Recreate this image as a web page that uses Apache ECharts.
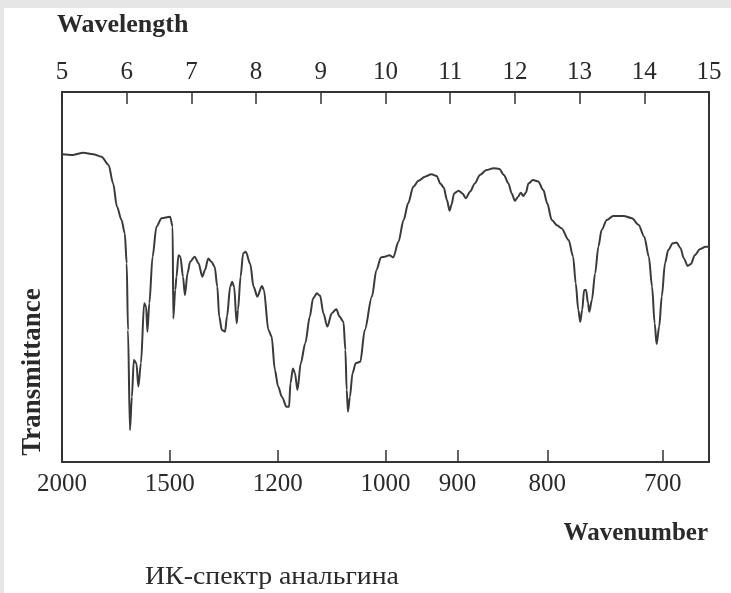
<!DOCTYPE html>
<html>
<head>
    <meta charset="utf-8">
    <title>ИК-спектр анальгина</title>
    <script src="https://cdn.jsdelivr.net/npm/echarts@6/dist/echarts.min.js"></script>
    <style>
        html, body { margin: 0; padding: 0; background: #fff; }
    </style>
</head>
<body>
<div id="main" style="width: 731px;height:593px;"></div>
<script type="text/javascript">
    // wavelength, micrometres (top axis)
    var wavelength = [
        5.00, 5.17, 5.33, 5.48, 5.61, 5.72, 5.79, 5.85, 5.92, 5.97,
        6.00, 6.02, 6.05, 6.08, 6.11, 6.15, 6.18, 6.22, 6.27, 6.30,
        6.32, 6.35, 6.40, 6.46, 6.54, 6.67, 6.71, 6.72, 6.75, 6.77,
        6.80, 6.83, 6.87, 6.90, 6.94, 6.98, 7.05, 7.11, 7.17, 7.21,
        7.26, 7.31, 7.36, 7.40, 7.43, 7.47, 7.52, 7.55, 7.60, 7.63,
        7.66, 7.70, 7.72, 7.76, 7.80, 7.84, 7.91, 7.96, 8.02, 8.09,
        8.12, 8.19, 8.24, 8.29, 8.34, 8.40, 8.47, 8.51, 8.53, 8.57,
        8.60, 8.64, 8.69, 8.76, 8.83, 8.88, 8.94, 8.99, 9.04, 9.10,
        9.17, 9.24, 9.29, 9.35, 9.38, 9.40, 9.42, 9.45, 9.49, 9.54,
        9.61, 9.68, 9.79, 9.86, 9.93, 9.99, 10.06, 10.12, 10.20, 10.28,
        10.35, 10.43, 10.51, 10.61, 10.71, 10.79, 10.85, 10.90, 10.95, 10.99,
        11.02, 11.06, 11.13, 11.19, 11.24, 11.31, 11.38, 11.46, 11.56, 11.67,
        11.76, 11.83, 11.90, 11.95, 12.00, 12.05, 12.09, 12.13, 12.17, 12.21,
        12.28, 12.36, 12.44, 12.50, 12.57, 12.65, 12.72, 12.83, 12.90, 12.94,
        12.98, 13.01, 13.04, 13.07, 13.10, 13.13, 13.15, 13.19, 13.24, 13.29,
        13.34, 13.42, 13.52, 13.68, 13.81, 13.91, 14.00, 14.07, 14.12, 14.16,
        14.19, 14.23, 14.27, 14.32, 14.37, 14.44, 14.50, 14.56, 14.61, 14.67,
        14.72, 14.78, 14.86, 14.95, 15.00
    ];
    // transmittance, % of the frame height
    var transmittance = [
        83.2, 83.0, 83.6, 83.2, 82.5, 80.3, 75.3, 69.0, 65.4, 61.8,
        53.7, 35.7, 8.6, 17.6, 27.6, 26.7, 20.4, 26.7, 42.9, 42.0,
        35.2, 42.9, 55.5, 63.6, 65.9, 66.3, 63.6, 38.8, 46.5, 50.1,
        55.9, 55.5, 50.1, 45.1, 51.0, 54.1, 55.5, 53.7, 50.1, 51.9,
        55.0, 54.1, 52.8, 47.4, 39.3, 35.7, 35.2, 39.3, 47.4, 48.7,
        47.4, 37.5, 41.1, 50.1, 56.4, 56.8, 53.5, 47.4, 44.7, 47.6,
        46.5, 35.7, 33.9, 24.9, 20.4, 17.6, 14.9, 14.9, 21.3, 25.3,
        24.0, 19.5, 26.7, 32.1, 39.3, 44.2, 45.6, 44.9, 40.2, 36.6,
        40.2, 41.3, 39.3, 37.9, 30.3, 19.5, 13.6, 17.6, 24.0, 26.7,
        27.1, 35.7, 44.7, 51.9, 55.3, 55.5, 55.9, 55.3, 59.5, 65.4,
        69.9, 74.4, 76.0, 77.1, 77.8, 77.3, 75.2, 74.2, 70.8, 67.9,
        69.5, 72.6, 73.3, 72.6, 71.3, 73.1, 75.3, 77.6, 78.9, 79.4,
        79.2, 77.6, 75.3, 72.6, 70.6, 71.7, 72.8, 71.9, 72.8, 75.3,
        76.2, 75.8, 73.5, 69.9, 65.4, 64.0, 63.2, 60.0, 55.5, 48.3,
        41.1, 37.9, 41.1, 46.5, 46.5, 42.9, 40.6, 43.8, 51.0, 58.2,
        62.7, 65.4, 66.5, 66.5, 65.9, 64.1, 60.9, 55.5, 47.4, 37.5,
        31.9, 36.6, 44.7, 53.7, 57.3, 59.1, 59.3, 57.8, 55.1, 53.0,
        53.5, 55.9, 57.5, 58.2, 58.2
    ];
    // bottom axis tick labels, cm-1
    var wavenumberTicks = [2000, 1500, 1200, 1000, 900, 800, 700];

    var serif = '"Liberation Serif", "DejaVu Serif", serif';
    var ink = '#2a2a2a';

    var chartDom = document.getElementById('main');
    var myChart = echarts.init(chartDom);

    var points = wavelength.map(function (w, i) {
        return [w, transmittance[i]];
    });
    var tickPos = wavenumberTicks.map(function (n) {
        return 10000 / n;
    });

    var frameLine = { show: true, onZero: false, lineStyle: { color: '#333', width: 2 } };

    var option = {
        backgroundColor: '#fff',
        animation: false,
        grid: { left: 62, right: 22, top: 92, bottom: 131 },
        xAxis: [
            {
                type: 'value',
                position: 'top',
                min: 5,
                max: 15,
                interval: 1,
                axisLine: frameLine,
                axisTick: { show: true, inside: true, length: 12, lineStyle: { color: '#333', width: 1.5 } },
                axisLabel: { margin: 7, color: ink, fontFamily: serif, fontSize: 25 },
                splitLine: { show: false }
            },
            {
                type: 'value',
                position: 'bottom',
                min: 5,
                max: 15,
                axisLine: frameLine,
                axisTick: { show: true, inside: true, length: 12, customValues: tickPos, lineStyle: { color: '#333', width: 1.5 } },
                axisLabel: {
                    margin: 10,
                    color: ink,
                    fontFamily: serif,
                    fontSize: 25,
                    customValues: tickPos,
                    formatter: function (v) { return Math.round(10000 / v); }
                },
                splitLine: { show: false }
            }
        ],
        yAxis: [
            {
                type: 'value', position: 'left', min: 0, max: 100,
                axisLine: frameLine, axisTick: { show: false }, axisLabel: { show: false }, splitLine: { show: false }
            },
            {
                type: 'value', position: 'right', min: 0, max: 100,
                axisLine: frameLine, axisTick: { show: false }, axisLabel: { show: false }, splitLine: { show: false }
            }
        ],
        graphic: [
            { type: 'rect', shape: { x: 0, y: 0, width: 731, height: 8 }, style: { fill: '#e6e6e6' }, silent: true },
            { type: 'rect', shape: { x: 0, y: 0, width: 4, height: 593 }, style: { fill: '#e6e6e6' }, silent: true },
            {
                type: 'text', x: 57, y: 25,
                style: { text: 'Wavelength', fill: ink, font: 'bold 26px ' + serif, textAlign: 'left', textVerticalAlign: 'middle' }
            },
            {
                type: 'text', x: 33, y: 372, rotation: Math.PI / 2,
                style: { text: 'Transmittance', fill: ink, font: 'bold 27px ' + serif, textAlign: 'center', textVerticalAlign: 'middle' }
            },
            {
                type: 'text', x: 708, y: 534,
                style: { text: 'Wavenumber', fill: ink, font: 'bold 25px ' + serif, textAlign: 'right', textVerticalAlign: 'middle' }
            },
            {
                type: 'text', x: 145, y: 577, scaleX: 1.07,
                style: { text: 'ИК-спектр анальгина', fill: ink, font: '26px ' + serif, textAlign: 'left', textVerticalAlign: 'middle' }
            }
        ],
        series: [
            {
                type: 'line',
                xAxisIndex: 0,
                yAxisIndex: 0,
                data: points,
                showSymbol: false,
                smooth: 0.3,
                smoothMonotone: 'x',
                lineStyle: { color: '#3a3a3a', width: 2 }
            }
        ]
    };

    if (option && typeof option === 'object') {
        myChart.setOption(option);
    }
</script>
</body>
</html>
